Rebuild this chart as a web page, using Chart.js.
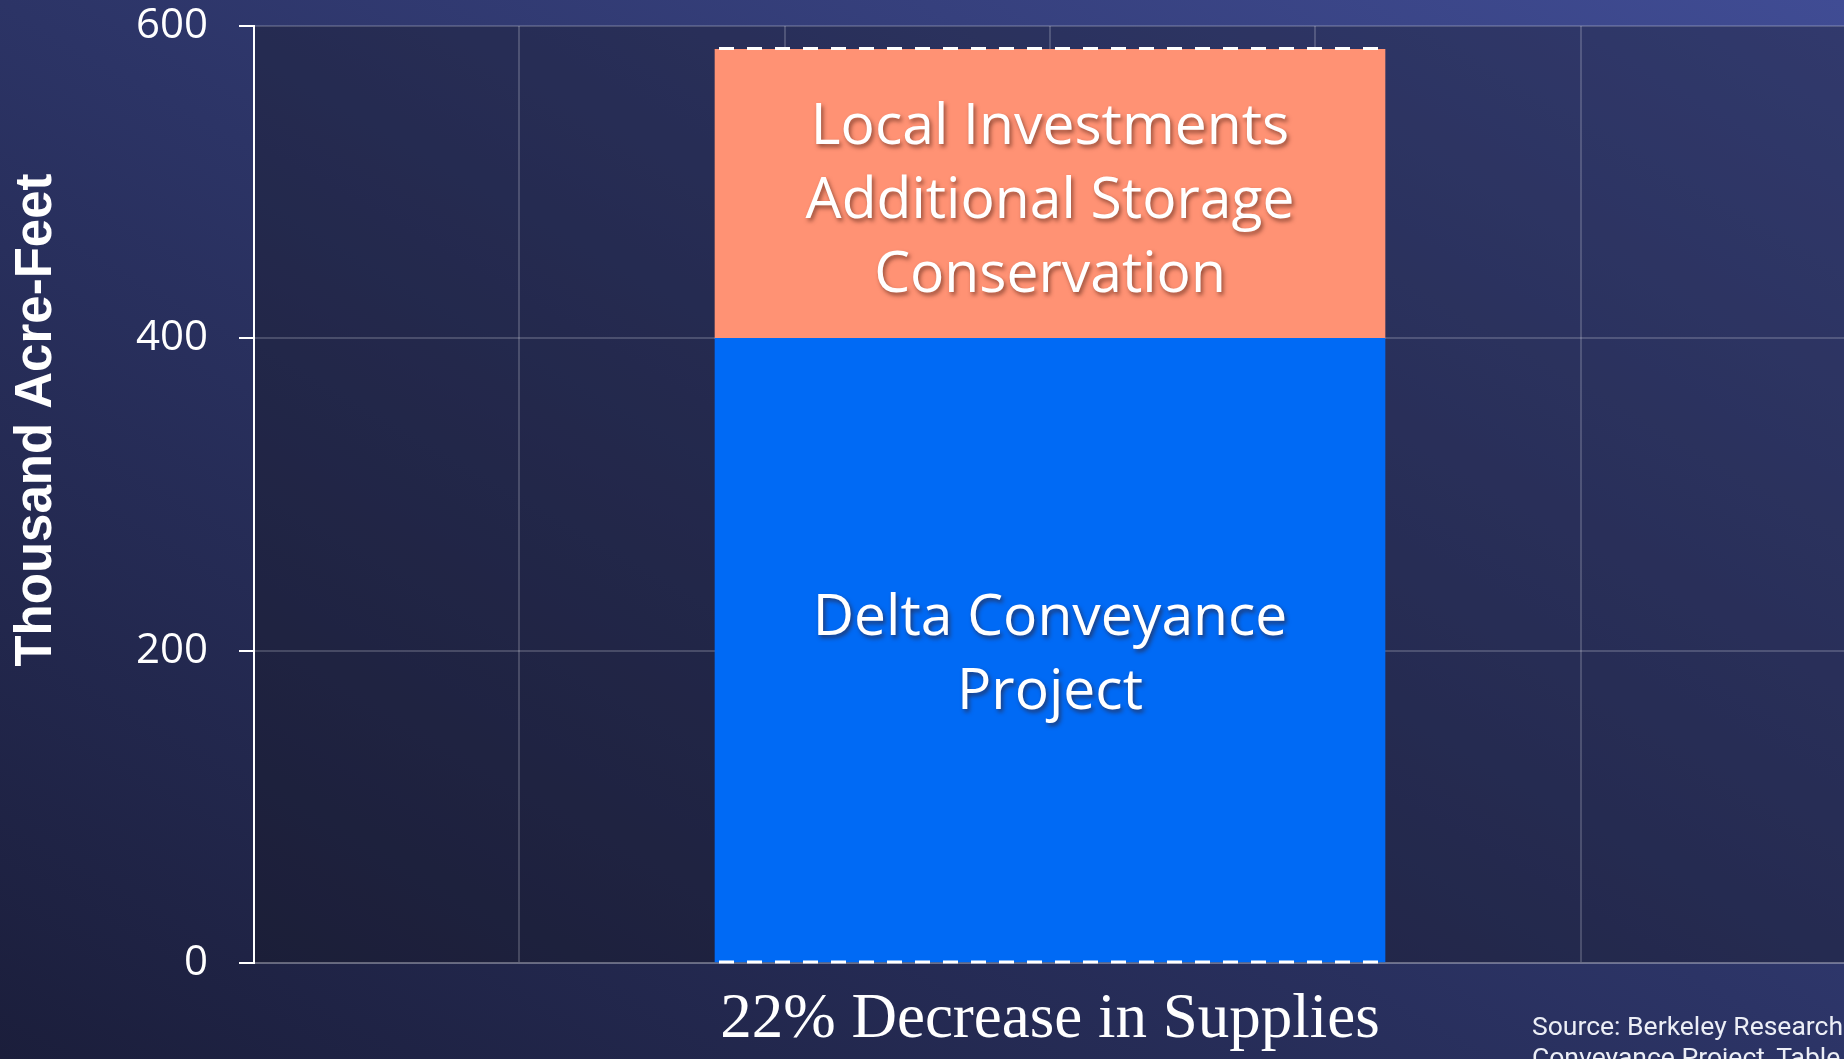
<!DOCTYPE html>
<html lang="en">

<head>
    <meta charset="UTF-8">
    <meta name="viewport" content="width=device-width, initial-scale=1.0">
    <title>Delta Conveyance - Supplies</title>
    <script src="https://cdn.jsdelivr.net/npm/chart.js"></script>
    <style>
        html, body { margin: 0; padding: 0; width: 1844px; height: 1059px; overflow: hidden; }
        body { background: linear-gradient(to top right, #1b1e3b 0%, #2c3466 50%, #404c94 100%); }
        .caixa { position: absolute; left: 0; top: 0; width: 1866px; height: 1059px; }
        .fonte { position: absolute; left: 1532px; top: 1010px; color: #eceef6; font-family: Roboto, sans-serif;
                 font-size: 26.5px; line-height: 31px; white-space: nowrap; }
    </style>
</head>

<body>
    <div class="caixa">
        <canvas id="grafico"></canvas>
    </div>
    <div class="fonte">Source: Berkeley Research Group, Delta<br>Conveyance Project, Table</div>
</body>

</html>
<script>
    // dados (mil acre-feet)
    const categorias = ['', '', '', '22% Decrease in Supplies', '', '', ''];
    const deltaConveyance = [null, null, null, 400, null, null, null];
    const localInvestments = [null, null, null, 185, null, null, null];
    const ticksY = [0, 200, 400, 600];
    const textoDelta = ['Delta Conveyance', 'Project'];
    const textoLocal = ['Local Investments', 'Additional Storage', 'Conservation'];
    const tituloY = 'Thousand Acre-Feet';

    const grade = 'rgba(255, 255, 255, 0.18)';

    function escrever(ctx, linhas, x, meio, tam, alt) {
        ctx.save();
        ctx.font = tam + 'px "Open Sans"';
        ctx.fillStyle = '#ffffff';
        ctx.textAlign = 'center';
        ctx.textBaseline = 'middle';
        ctx.shadowColor = 'rgba(60, 20, 10, 0.55)';
        ctx.shadowOffsetX = 2;
        ctx.shadowOffsetY = 3;
        ctx.shadowBlur = 4;
        linhas.forEach(function (linha, i) {
            ctx.fillText(linha, x, meio + (i - (linhas.length - 1) / 2) * alt);
        });
        ctx.restore();
    }

    // fundo da area do grafico um pouco mais escuro
    const fundoArea = {
        id: 'fundoArea',
        beforeDraw(chart) {
            const a = chart.chartArea;
            chart.ctx.save();
            chart.ctx.fillStyle = 'rgba(20, 20, 30, 0.33)';
            chart.ctx.fillRect(a.left, a.top, a.right - a.left, a.bottom - a.top);
            chart.ctx.restore();
        }
    };

    // textos dentro das barras + linhas tracejadas
    const etiquetas = {
        id: 'etiquetas',
        afterDatasetsDraw(chart) {
            const ctx = chart.ctx;
            const idx = deltaConveyance.findIndex(v => v !== null);
            const azul = chart.getDatasetMeta(0).data[idx];
            const laranja = chart.getDatasetMeta(1).data[idx];

            escrever(ctx, textoLocal, laranja.x, (laranja.y + laranja.base) / 2 + 8, 57, 74);
            escrever(ctx, textoDelta, azul.x, (azul.y + azul.base) / 2 + 6, 57, 74);

            const esq = azul.x - azul.width / 2 + 4;
            const dir = azul.x + azul.width / 2 - 4;
            ctx.save();
            ctx.strokeStyle = '#ffffff';
            ctx.lineWidth = 3;
            ctx.setLineDash([15, 13]);
            [laranja.y - 1, azul.base].forEach(function (y) {
                ctx.beginPath();
                ctx.moveTo(esq, y);
                ctx.lineTo(dir, y);
                ctx.stroke();
            });
            ctx.restore();

            // titulo do eixo y
            ctx.save();
            ctx.translate(37, 420);
            ctx.rotate(-Math.PI / 2);
            ctx.font = 'bold 51px "Liberation Sans"';
            ctx.fillStyle = '#ffffff';
            ctx.textAlign = 'center';
            ctx.textBaseline = 'middle';
            ctx.fillText(tituloY, 0, 0);
            ctx.restore();
        }
    };

    const config = {
        type: 'bar',
        data: {
            labels: categorias,
            datasets: [{
                label: 'Delta Conveyance Project',
                data: deltaConveyance,
                backgroundColor: '#006af5',
                barThickness: 670
            }, {
                label: 'Local Investments',
                data: localInvestments,
                backgroundColor: '#ff9274',
                barThickness: 670
            }]
        },
        options: {
            responsive: true,
            maintainAspectRatio: false,
            animation: false,
            layout: { padding: { top: 0, left: 0, right: 0, bottom: 0 } },
            plugins: {
                legend: { display: false },
                tooltip: { enabled: false }
            },
            scales: {
                x: {
                    stacked: true,
                    offset: false,
                    grid: { color: grade, lineWidth: 2, drawTicks: false, offset: false },
                    border: { color: grade, width: 2 },
                    ticks: {
                        color: '#ffffff',
                        font: { family: '"Liberation Serif"', size: 63 },
                        padding: 20,
                        autoSkip: false,
                        maxRotation: 0
                    },
                    afterFit(scale) { scale.height = 96; }
                },
                y: {
                    stacked: true,
                    min: 0,
                    max: 600,
                    afterBuildTicks(scale) { scale.ticks = ticksY.map(v => ({ value: v })); },
                    grid: { color: grade, lineWidth: 2, tickColor: '#ffffff', tickLength: 15, tickWidth: 2 },
                    border: { color: '#ffffff', width: 2 },
                    ticks: {
                        color: '#ffffff',
                        font: { family: '"Open Sans"', size: 42 },
                        padding: 31
                    },
                    afterFit(scale) {
                        scale.width = 254;
                        // so o meio do rotulo "600" precisa caber acima
                        scale.paddingTop = 26;
                        scale.paddingBottom = 0;
                    }
                }
            }
        },
        plugins: [fundoArea, etiquetas]
    };

    const meuGrafico = new Chart(document.getElementById('grafico'), config);
</script>
